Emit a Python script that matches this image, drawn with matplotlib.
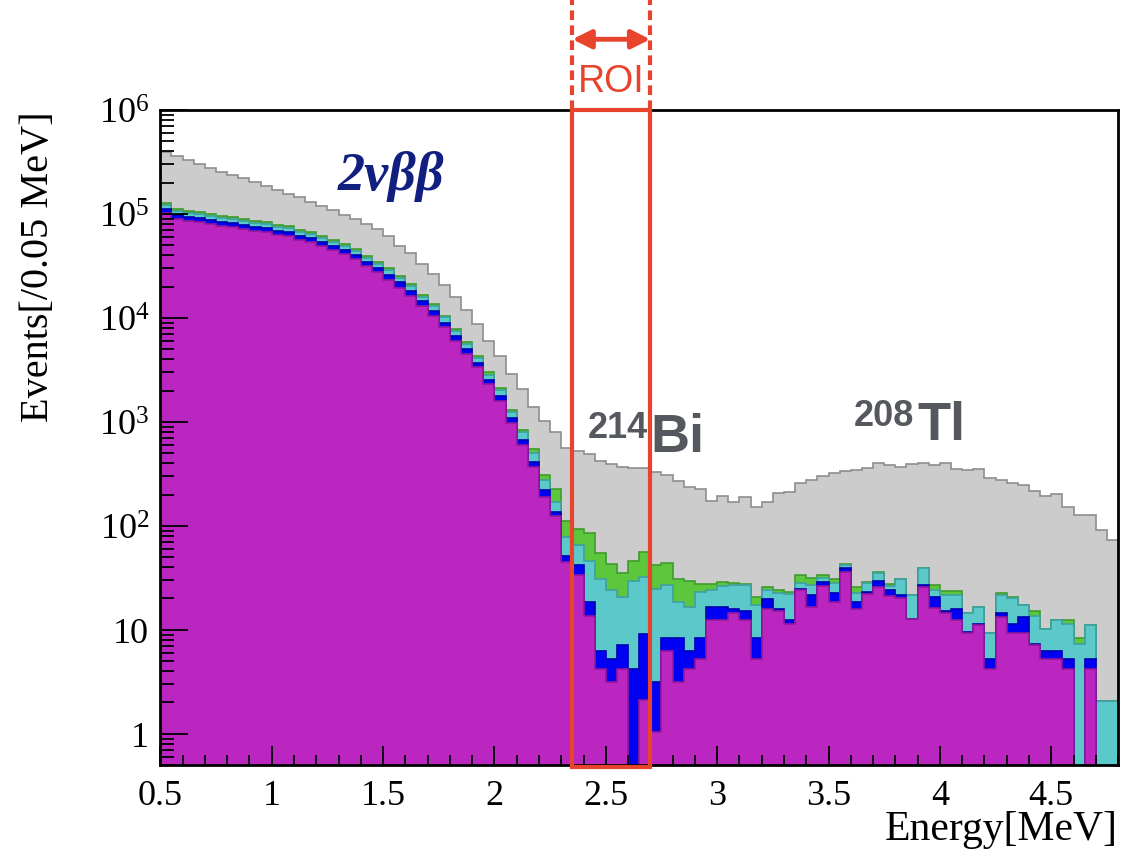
import matplotlib.pyplot as plt
import matplotlib.ticker as ticker
from matplotlib.patches import Rectangle
import numpy as np

# binning of the histogram (0.05 MeV bins from 0.5 to 4.8 MeV)
e_lo, e_hi, n_bins = 0.5, 4.8, 86

# stacked heights (top of each colour layer, events / bin)
h_total = [3.97e5, 3.64e5, 3.33e5, 3.03e5, 2.75e5, 2.55e5, 2.37e5, 2.20e5, 2.02e5, 1.87e5,
           1.71e5, 1.56e5, 1.45e5, 1.31e5, 1.20e5, 1.08e5, 9.78e4, 8.95e4, 8.01e4, 7.18e4,
           6.11e4, 4.95e4, 4.22e4, 3.30e4, 2.65e4, 2.08e4, 1.58e4, 1.18e4, 8750, 6050,
           4350, 2900, 2080, 1380, 1030, 796, 562, 530, 487, 425,
           390, 367, 359, 359, 327, 309, 271, 237, 224, 174,
           193, 168, 189, 153, 168, 205, 213, 261, 277, 301,
           322, 334, 344, 359, 404, 382, 369, 390, 399, 383,
           404, 356, 347, 356, 290, 279, 258, 249, 215, 193,
           203, 151, 126, 126, 91, 73]
h_green = [1.273e5, 1.117e5, 1.076e5, 1.038e5, 1.007e5, 9.63e4, 9.30e4, 8.96e4, 8.62e4, 8.32e4,
           7.89e4, 7.63e4, 7.06e4, 6.68e4, 6.10e4, 5.67e4, 5.14e4, 4.61e4, 3.97e4, 3.43e4,
           3.01e4, 2.52e4, 2.12e4, 1.67e4, 1.35e4, 1.05e4, 7840, 5920, 4340, 3010,
           2110, 1300, 838, 550, 311, 227, 112, 93.6, 85.7, 55.0,
           43.1, 35.3, 46.1, 55.9, 42.2, 44.1, 30.9, 29.4, 27.3, 27.7,
           28.7, 28.3, 27.3, 20.6, 25.7, 23.9, 23.0, 33.3, 31.4, 33.8,
           30.9, 43.1, 25.7, 29.1, 35.9, 27.4, 30.9, 21.7, 39.2, 26.7,
           23.4, 23.4, 14.6, 16.5, 9.36, 22.7, 20.6, 17.4, 15.3, 10.2,
           12.3, 12.3, 8.32, 11.2, 2.05, 2.05]
h_cyan = [1.218e5, 1.069e5, 1.029e5, 9.93e4, 9.64e4, 9.22e4, 8.90e4, 8.57e4, 8.25e4, 7.96e4,
          7.55e4, 7.30e4, 6.76e4, 6.39e4, 5.84e4, 5.42e4, 4.92e4, 4.41e4, 3.80e4, 3.28e4,
          2.91e4, 2.41e4, 2.05e4, 1.60e4, 1.30e4, 1.01e4, 7500, 5620, 4150, 2850,
          2020, 1240, 796, 504, 273, 171, 77.9, 64.7, 45.4, 30.9,
          24.4, 20.6, 29.6, 32.1, 24.8, 26.7, 18.7, 16.5, 23.0, 23.9,
          26.1, 26.7, 26.7, 17.4, 24.4, 22.7, 22.2, 28.3, 27.1, 31.4,
          28.3, 42.2, 22.7, 28.3, 35.3, 26.5, 30.9, 21.7, 39.2, 24.4,
          21.4, 21.7, 14.6, 16.5, 9.36, 21.7, 20.2, 17.4, 13.5, 10.2,
          12.3, 11.4, 7.33, 11.2, 2.05, 2.05]
h_blue = [1.115e5, 9.78e4, 9.42e4, 9.09e4, 8.82e4, 8.44e4, 8.14e4, 7.85e4, 7.55e4, 7.29e4,
          6.91e4, 6.68e4, 6.19e4, 5.85e4, 5.34e4, 4.96e4, 4.50e4, 4.03e4, 3.48e4, 3.01e4,
          2.59e4, 2.20e4, 1.83e4, 1.44e4, 1.16e4, 8950, 6670, 5040, 3720, 2550,
          1790, 1090, 667, 410, 223, 137, 51.8, 42.2, 18.7, 6.19,
          5.26, 7.17, 4.22, 9.15, 3.14, 8.32, 8.32, 6.32, 8.32, 16.5,
          16.5, 15.7, 15.3, 8.32, 19.6, 15.7, 12.3, 24.8, 21.7, 28.7,
          22.7, 39.2, 18.5, 23.0, 29.3, 24.2, 21.7, 12.8, 27.1, 20.6,
          15.3, 15.7, 9.57, 11.3, 5.18, 14.6, 11.4, 13.2, 7.33, 6.19,
          6.19, 5.18, 0, 5.18, 0, 0]
h_2nbb = [1.02e5, 8.95e4, 8.62e4, 8.32e4, 8.07e4, 7.72e4, 7.45e4, 7.18e4, 6.91e4, 6.67e4,
          6.32e4, 6.11e4, 5.66e4, 5.35e4, 4.89e4, 4.54e4, 4.12e4, 3.69e4, 3.18e4, 2.75e4,
          2.32e4, 1.94e4, 1.63e4, 1.30e4, 1.04e4, 8190, 6010, 4540, 3380, 2300,
          1590, 978, 601, 367, 189, 123, 45.1, 33.4, 13.5, 4.22,
          3.14, 4.22, 0, 2.09, 1.04, 6.19, 3.14, 4.22, 5.18, 12.3,
          12.3, 14.6, 12.3, 5.18, 15.7, 15.3, 11.4, 23.9, 16.5, 26.1,
          18.5, 36.1, 15.7, 22.2, 25.9, 21.2, 20.3, 12.8, 25.9, 16.2,
          14.6, 12.3, 9.36, 11.2, 4.15, 13.2, 9.36, 9.36, 7.17, 5.26,
          5.26, 4.15, 0, 4.15, 0, 0]

roi_lo, roi_hi = 2.35, 2.7

plt.rcParams['font.family'] = ['Liberation Serif', 'DejaVu Serif']
plt.rcParams['mathtext.fontset'] = 'custom'
plt.rcParams['mathtext.rm'] = 'Liberation Serif'

W, H = 1122, 854
fig = plt.figure(figsize=(W / 100, H / 100), dpi=100)
ax = fig.add_axes([0.1429, 0.1030, 0.8536, 0.7670])

edges = np.linspace(e_lo, e_hi, n_bins + 1)
floor = 1e-3

layers = [(h_total, '#cccccc', '#8e8e8e'),
          (h_green, '#5cc63c', '#3f9c2c'),
          (h_cyan, '#5bc9c9', '#3fa0a0'),
          (h_blue, '#0000f5', '#0000b0'),
          (h_2nbb, '#bb26c0', '#93189a')]
for vals, fc, ec in layers:
    v = np.asarray(vals, dtype=float)
    v = np.where(v > 0, v, floor)
    ax.stairs(v, edges, baseline=floor, fill=True, color=fc, lw=0)
    ax.stairs(v, edges, baseline=None, color=ec, lw=1.2)

ax.set_yscale('log')
ax.set_xlim(e_lo, e_hi)
ax.set_ylim(0.5, 1e6)

ax.xaxis.set_major_locator(ticker.MultipleLocator(0.5))
ax.xaxis.set_minor_locator(ticker.MultipleLocator(0.1))
ax.xaxis.set_major_formatter(
    ticker.FuncFormatter(lambda v, p: '%g' % v if e_lo - 1e-6 <= v <= e_hi else ''))
ax.yaxis.set_major_locator(ticker.LogLocator(base=10, numticks=12))
ax.yaxis.set_minor_locator(ticker.LogLocator(base=10, subs=np.arange(2, 10), numticks=12))
ax.yaxis.set_minor_formatter(ticker.NullFormatter())


def ylab(v, pos):
    if v < 0.9 or v > 1.1e6:
        return ''
    if v < 5:
        return '1'
    if v < 50:
        return '10'
    return r'$\mathregular{10^{%d}}$' % round(np.log10(v))


ax.yaxis.set_major_formatter(ticker.FuncFormatter(ylab))
ax.tick_params(which='both', direction='in', top=False, right=False, labelsize=26, width=1.3)
ax.tick_params(axis='y', which='major', length=20, pad=8)
ax.tick_params(axis='y', which='minor', length=10)
ax.tick_params(axis='x', which='major', length=14, pad=10)
ax.tick_params(axis='x', which='minor', length=7)
for s in ax.spines.values():
    s.set_linewidth(2)

ax.set_ylabel('Events[/0.05 MeV]', fontsize=29, loc='top')
ax.yaxis.set_label_coords(-0.108, 1.0)
ax.set_xlabel('Energy[MeV]', fontsize=30, loc='right')
ax.xaxis.set_label_coords(1.0, -0.068)

# ROI box and marker above the frame
red = '#e8432c'
tr = ax.get_xaxis_transform()
ax.add_patch(Rectangle((roi_lo, -0.003), roi_hi - roi_lo, 1.003, transform=tr,
                       fill=False, ec=red, lw=3, clip_on=False, zorder=5))
for xv in (roi_lo, roi_hi):
    ax.plot([xv, xv], [1.0, 1.17], transform=tr, color=red, lw=3,
            ls=(0, (2.3, 1.3)), clip_on=False, zorder=5)
ax.annotate('', xy=(roi_lo, 1.108), xytext=(roi_hi, 1.108), xycoords=tr, textcoords=tr,
            arrowprops=dict(arrowstyle='<|-|>', color=red, lw=3.5, mutation_scale=28,
                            shrinkA=0, shrinkB=0), annotation_clip=False)
ax.text((roi_lo + roi_hi) / 2, 1.029, 'ROI', transform=tr, ha='center', va='baseline',
        fontsize=27, color=red, family='Liberation Sans')

# labels inside the plot
fig.text(338 / W, 1 - 190 / H, '2νββ', fontsize=39, fontweight='bold', style='italic',
         color='#101f80', ha='left', va='baseline', family=['Liberation Serif', 'DejaVu Serif'])
grey = '#55595f'
fig.text(648 / W, 1 - 438 / H, '214', fontsize=26, fontweight='bold', color=grey,
         ha='right', va='baseline', family='Liberation Sans')
fig.text(650 / W, 1 - 452 / H, 'Bi', fontsize=39, fontweight='bold', color=grey,
         ha='left', va='baseline', family='Liberation Sans')
fig.text(914 / W, 1 - 426 / H, '208', fontsize=26, fontweight='bold', color=grey,
         ha='right', va='baseline', family='Liberation Sans')
fig.text(917 / W, 1 - 440 / H, 'Tl', fontsize=39, fontweight='bold', color=grey,
         ha='left', va='baseline', family='Liberation Sans')

fig.savefig('out.png', dpi=100)
